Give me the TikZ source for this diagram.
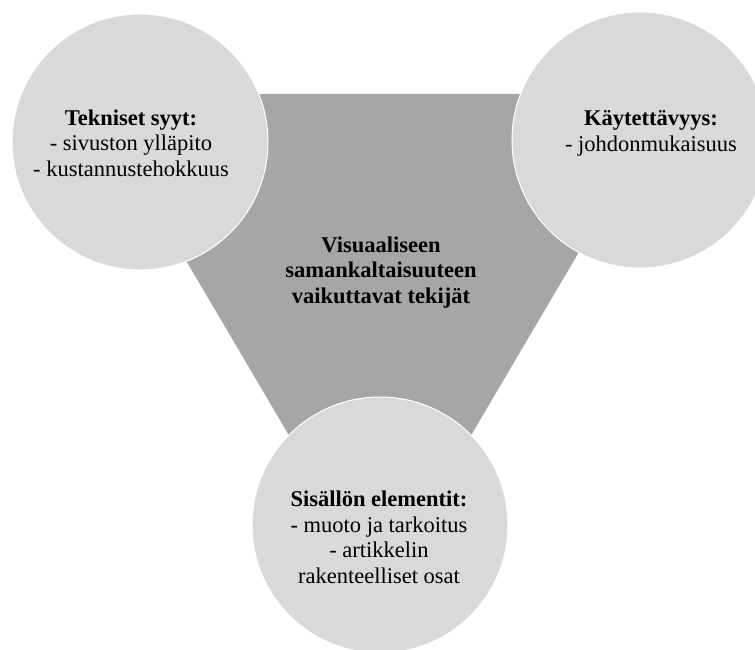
\documentclass[tikz,border=0pt]{standalone}
\usepackage{fontspec}
\setmainfont{Liberation Serif}
\definecolor{circfill}{RGB}{217,217,217}
\definecolor{trifill}{RGB}{166,166,166}
\tikzset{
  circ/.style={circle, fill=circfill, draw=white, line width=1pt, minimum size=256pt, inner sep=0pt},
  lbl/.style={align=center, anchor=base, inner sep=0pt, font=\fontsize{22.5}{25.5}\selectfont},
}
\begin{document}
\begin{tikzpicture}[x=1pt,y=-1pt]
\useasboundingbox (0,0) rectangle (755,650);
\coordinate (tl) at (88,94);
\coordinate (tr) at (672,94);
\coordinate (bt) at (380,590);
\fill[trifill] (tl) -- (tr) -- (bt) -- cycle;
\node[circ] (L) at (140,142) {};
\node[circ] (R) at (640,140) {};
\node[circ] (B) at (380,525) {};
\node[lbl] (Lt) at (131,176) {\textbf{Tekniset syyt:}\\- sivuston ylläpito\\- kustannustehokkuus};
\node[lbl] (Rt) at (651,151) {\textbf{Käytettävyys:}\\- johdonmukaisuus};
\node[lbl] (Ct) at (381,303) {\textbf{Visuaaliseen}\\\textbf{samankaltaisuuteen}\\\textbf{vaikuttavat tekijät}};
\node[lbl] (Bt) at (379,583) {\textbf{Sisällön elementit:}\\- muoto ja tarkoitus\\- artikkelin\\rakenteelliset osat};
\end{tikzpicture}
\end{document}
